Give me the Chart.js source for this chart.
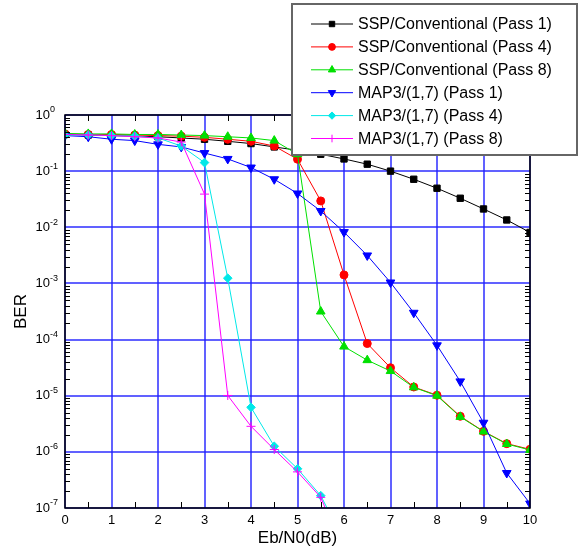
<!DOCTYPE html>
<html>
<head>
<meta charset="utf-8">
<script src="https://cdn.jsdelivr.net/npm/chart.js@4/dist/chart.umd.min.js"></script>
<style>
	html, body { margin: 0; padding: 0; background: #fff; }
	canvas { display: block; }
</style>
</head>
<body>
<canvas id="berChart" width="579" height="547"></canvas>
<script>
const FONT = '"Liberation Sans", Arial, sans-serif'

// Eb/N0 points (dB)
const ebn0 = [0, 0.5, 1, 1.5, 2, 2.5, 3, 3.5, 4, 4.5, 5, 5.5, 6, 6.5, 7, 7.5, 8, 8.5, 9, 9.5, 10]

// BER per curve
const sspPass1 = [0.45, 0.44, 0.43, 0.42, 0.41, 0.39, 0.37, 0.34, 0.31, 0.27, 0.235, 0.2, 0.165, 0.133, 0.1, 0.0717, 0.0496, 0.0329, 0.0212, 0.0135, 0.0081]
const sspPass4 = [0.46, 0.45, 0.45, 0.44, 0.43, 0.42, 0.4, 0.37, 0.34, 0.28, 0.163, 0.0295, 0.00142, 8.5e-5, 3.15e-5, 1.43e-5, 1.02e-5, 4.3e-6, 2.32e-6, 1.4e-6, 1.11e-6]
const sspPass8 = [0.47, 0.46, 0.46, 0.45, 0.45, 0.44, 0.43, 0.41, 0.39, 0.35, 0.2, 3.16e-4, 7.5e-5, 4.3e-5, 2.75e-5, 1.41e-5, 1.0e-5, 4.2e-6, 2.3e-6, 1.38e-6, 1.08e-6]
const mapPass1 = [0.43, 0.41, 0.37, 0.35, 0.3, 0.27, 0.21, 0.165, 0.116, 0.0717, 0.04, 0.0195, 0.0082, 0.00315, 0.00104, 3.0e-4, 7.9e-5, 1.8e-5, 3.3e-6, 4.2e-7, 1.2e-7]
const mapPass4 = [0.44, 0.44, 0.43, 0.42, 0.39, 0.28, 0.142, 1.24e-3, 6.2e-6, 1.26e-6, 5.0e-7, 1.66e-7, 2.6e-8]
const mapPass8 = [0.45, 0.44, 0.43, 0.41, 0.39, 0.33, 0.039, 1.01e-5, 2.85e-6, 1.1e-6, 4.4e-7, 1.55e-7, 1.6e-8]

const xTicks = [0, 1, 2, 3, 4, 5, 6, 7, 8, 9, 10]
const yTicks = [1e-7, 1e-6, 1e-5, 1e-4, 1e-3, 1e-2, 1e-1, 1]

const labels = [
	'SSP/Conventional (Pass 1)',
	'SSP/Conventional (Pass 4)',
	'SSP/Conventional (Pass 8)',
	'MAP3/(1,7) (Pass 1)',
	'MAP3/(1,7) (Pass 4)',
	'MAP3/(1,7) (Pass 8)',
]

const GRID = 'rgba(30, 30, 255, 0.7)'

const toPoints = vals => vals.map((v, i) => ({ x: ebn0[i], y: v }))

const series = (i, vals, color, style, radius, extra = {}) => ({
	label: labels[i],
	data: toPoints(vals),
	borderColor: color,
	backgroundColor: color,
	borderWidth: 1,
	pointStyle: style,
	pointRadius: radius,
	pointBorderWidth: 1,
	order: 6 - i,
	...extra,
})

const datasets = [
	series(0, sspPass1, '#000000', 'rect', 4.5),
	series(1, sspPass4, '#ff0000', 'circle', 4),
	series(2, sspPass8, '#00e000', 'triangle', 5),
	series(3, mapPass1, '#0000ff', 'triangle', 5, { pointRotation: 180 }),
	series(4, mapPass4, '#00e8e8', 'rectRot', 4.3),
	series(5, mapPass8, '#ff00ff', 'cross', 4.5),
]

// frame, inner ticks, tick labels, axis titles and the boxed legend
const decorations = {
	id: 'decorations',
	afterDatasetsDraw(chart) {
		const { ctx, chartArea: a, scales: { x, y } } = chart
		ctx.save()
		ctx.strokeStyle = '#000'
		ctx.lineWidth = 1
		ctx.beginPath()
		// half-step ticks top and bottom
		for (let v = 0.5; v < 10; v += 1) {
			const px = Math.round(x.getPixelForValue(v)) + 0.5
			ctx.moveTo(px, a.bottom)
			ctx.lineTo(px, a.bottom - 6)
			ctx.moveTo(px, a.top)
			ctx.lineTo(px, a.top + 6)
		}
		// minor decade ticks left and right
		for (let e = -7; e < 0; e++) {
			for (let m = 2; m <= 9; m++) {
				const py = Math.round(y.getPixelForValue(m * Math.pow(10, e))) + 0.5
				ctx.moveTo(a.left, py)
				ctx.lineTo(a.left + 5, py)
				ctx.moveTo(a.right, py)
				ctx.lineTo(a.right - 5, py)
			}
		}
		ctx.stroke()
		ctx.lineWidth = 1.5
		ctx.strokeRect(a.left, a.top, a.right - a.left, a.bottom - a.top)
		ctx.restore()
	},
	afterDraw(chart) {
		const { ctx, chartArea: a, scales: { x, y } } = chart
		ctx.save()
		ctx.fillStyle = '#000'

		// x tick labels
		ctx.font = '13px ' + FONT
		ctx.textAlign = 'center'
		ctx.textBaseline = 'middle'
		xTicks.forEach(v => ctx.fillText(String(v), x.getPixelForValue(v), a.bottom + 12))

		// y tick labels as 10 with a raised exponent
		yTicks.forEach(v => {
			const py = y.getPixelForValue(v)
			const exp = Math.round(Math.log10(v))
			ctx.font = '13px ' + FONT
			ctx.textAlign = 'right'
			ctx.textBaseline = 'middle'
			ctx.fillText('10', a.left - 15, py)
			ctx.font = '9px ' + FONT
			ctx.textAlign = 'left'
			ctx.fillText(exp === 0 ? '0' : '-' + Math.abs(exp), a.left - 15, py - 5)
		})

		// axis titles
		ctx.font = '17px ' + FONT
		ctx.textAlign = 'center'
		ctx.textBaseline = 'middle'
		ctx.fillText('Eb/N0(dB)', (a.left + a.right) / 2, a.bottom + 30)
		ctx.save()
		ctx.translate(21, (a.top + a.bottom) / 2)
		ctx.rotate(-Math.PI / 2)
		ctx.fillText('BER', 0, 0)
		ctx.restore()

		// legend box
		const bx = 292, by = 4, bw = 285, bh = 151
		ctx.fillStyle = '#fff'
		ctx.fillRect(bx, by, bw, bh)
		ctx.strokeStyle = '#666'
		ctx.lineWidth = 2
		ctx.strokeRect(bx, by, bw, bh)

		datasets.forEach((ds, i) => {
			const ry = 24 + i * 22.9
			ctx.strokeStyle = ds.borderColor
			ctx.lineWidth = 1
			ctx.beginPath()
			ctx.moveTo(311, ry)
			ctx.lineTo(353, ry)
			ctx.stroke()
			ctx.fillStyle = ds.backgroundColor
			Chart.helpers.drawPoint(ctx, {
				pointStyle: ds.pointStyle,
				radius: ds.pointRadius * 0.85,
				rotation: ds.pointRotation || 0,
				borderWidth: 1,
			}, 332, ry)
			ctx.fillStyle = '#000'
			ctx.font = '16px ' + FONT
			ctx.textAlign = 'left'
			ctx.textBaseline = 'middle'
			ctx.fillText(ds.label, 358, ry + 1)
		})
		ctx.restore()
	},
}

const chart = new Chart(document.getElementById('berChart'), {
	type: 'line',
	data: { datasets },
	options: {
		responsive: false,
		animation: false,
		events: [],
		layout: { padding: { left: 65, right: 49, top: 115, bottom: 39 } },
		plugins: { legend: { display: false }, tooltip: { enabled: false } },
		scales: {
			x: {
				type: 'linear',
				min: 0,
				max: 10,
				afterBuildTicks: s => { s.ticks = xTicks.map(v => ({ value: v })) },
				ticks: { display: false },
				grid: { color: GRID, lineWidth: 2, drawTicks: false },
				border: { display: false },
			},
			y: {
				type: 'logarithmic',
				min: 1e-7,
				max: 1,
				afterBuildTicks: s => { s.ticks = yTicks.map(v => ({ value: v })) },
				ticks: { display: false },
				grid: { color: GRID, lineWidth: 2, drawTicks: false },
				border: { display: false },
			},
		},
	},
	plugins: [decorations],
})
</script>
</body>
</html>
